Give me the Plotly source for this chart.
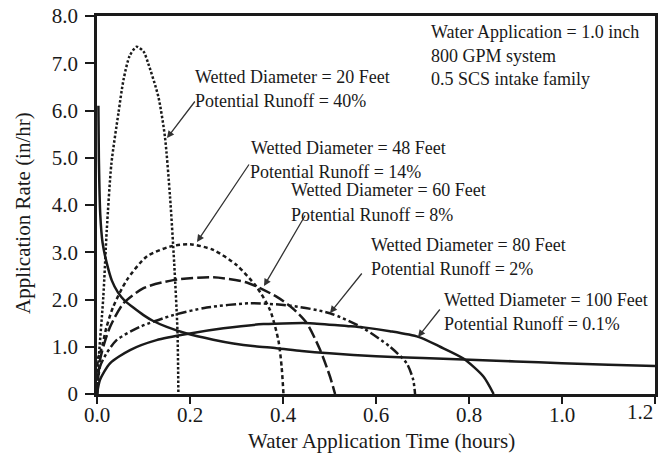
import plotly.graph_objects as go

# ---- data ----
intake_t = [0.003, 0.004, 0.007, 0.012, 0.021, 0.032, 0.045, 0.06, 0.078, 0.1, 0.12, 0.15, 0.193, 0.25, 0.293, 0.34, 0.386, 0.44, 0.5, 0.6, 0.7, 0.788, 0.9, 1.0, 1.1, 1.2]
intake_v = [6.1, 5.0, 3.8, 3.2, 2.77, 2.4, 2.15, 1.97, 1.83, 1.67, 1.55, 1.42, 1.28, 1.15, 1.07, 1.01, 0.97, 0.91, 0.86, 0.8, 0.76, 0.73, 0.69, 0.65, 0.62, 0.59]

d20_t = [0.0, 0.003, 0.0136, 0.021, 0.031, 0.046, 0.057, 0.07, 0.085, 0.1, 0.11, 0.132, 0.146, 0.157, 0.166, 0.173, 0.175]
d20_v = [0.0, 0.65, 2.06, 3.47, 4.88, 5.94, 6.65, 7.15, 7.35, 7.25, 7.0, 6.29, 5.45, 4.18, 2.77, 1.35, 0.0]

d48_t = [0.0, 0.002, 0.006, 0.012, 0.02, 0.035, 0.064, 0.107, 0.157, 0.2, 0.25, 0.3, 0.343, 0.372, 0.39, 0.397, 0.401]
d48_v = [0.0, 0.75, 0.85, 1.05, 1.4, 1.85, 2.41, 2.91, 3.12, 3.17, 3.05, 2.73, 2.27, 1.78, 1.14, 0.58, 0.0]

d60_t = [0.0, 0.003, 0.0065, 0.015, 0.028, 0.057, 0.1, 0.164, 0.25, 0.322, 0.386, 0.42, 0.451, 0.48, 0.501, 0.512]
d60_v = [0.0, 0.4, 0.72, 1.05, 1.42, 1.92, 2.24, 2.41, 2.47, 2.36, 2.06, 1.82, 1.5, 0.93, 0.37, 0.0]

d80_t = [0.0, 0.0065, 0.02, 0.042, 0.092, 0.164, 0.236, 0.329, 0.415, 0.501, 0.573, 0.63, 0.666, 0.68, 0.684]
d80_v = [0.0, 0.58, 0.85, 1.14, 1.42, 1.67, 1.83, 1.92, 1.87, 1.71, 1.39, 1.0, 0.65, 0.3, 0.0]

d100_t = [0.0, 0.0065, 0.028, 0.071, 0.128, 0.2, 0.272, 0.358, 0.42, 0.458, 0.537, 0.573, 0.63, 0.691, 0.738, 0.788, 0.831, 0.853]
d100_v = [0.0, 0.3, 0.65, 0.93, 1.14, 1.28, 1.39, 1.48, 1.5, 1.5, 1.44, 1.41, 1.33, 1.21, 1.0, 0.75, 0.37, 0.0]

x_tick_vals = [0.0, 0.2, 0.4, 0.6, 0.8, 1.0, 1.2]
x_tick_text = ["0.0", "0.2", "0.4", "0.6", "0.8", "1.0", "1.2"]
y_tick_vals = [0, 1, 2, 3, 4, 5, 6, 7, 8]
y_tick_text = ["0", "1.0", "2.0", "3.0", "4.0", "5.0", "6.0", "7.0", "8.0"]

info_lines = ["Water Application = 1.0 inch", "800 GPM system", "0.5 SCS intake family"]
label_lines = [
    "Wetted Diameter = 20 Feet", "Potential Runoff = 40%",
    "Wetted Diameter = 48 Feet", "Potential Runoff = 14%",
    "Wetted Diameter = 60 Feet", "Potential Runoff = 8%",
    "Wetted Diameter = 80 Feet", "Potential Runoff = 2%",
    "Wetted Diameter = 100 Feet", "Potential Runoff = 0.1%",
]
x_title = "Water Application Time (hours)"
y_title = "Application Rate (in/hr)"

FONT = "Liberation Serif, Times New Roman, serif"

# plot area in pixels
L, R, T, B = 97, 655, 16, 394
XMAX, YMAX = 1.2, 8.0
def dx(px): return (px - L) / (R - L) * XMAX
def dy(py): return (B - py) / (B - T) * YMAX
def px_(px): return (px - L) / (R - L)
def py_(py): return (B - py) / (B - T)

fig = go.Figure()
series = [
    (intake_t, intake_v, "solid"),
    (d20_t, d20_v, "2.5px,2px"),
    (d48_t, d48_v, "4px,3px"),
    (d60_t, d60_v, "12px,4px"),
    (d80_t, d80_v, "10px,3px,3px,3px,3px,3px"),
    (d100_t, d100_v, "solid"),
]
for t, v, dash in series:
    fig.add_trace(go.Scatter(x=t, y=v, mode="lines", showlegend=False,
                             line=dict(color="#1a1a1a", width=2.5, dash=dash,
                                       shape="spline", smoothing=0.7),
                             hoverinfo="skip"))

ann = []
for i, txt in enumerate(info_lines):
    ann.append(dict(text=txt, x=px_(429), y=py_(32 + 23.5 * i), xref="paper", yref="paper",
                    xanchor="left", yanchor="middle", showarrow=False))
label_pos = [(193, 77), (193, 101), (249, 148), (248, 172), (289, 190), (289, 215),
             (369, 245), (369, 269), (442, 300), (442, 324)]
for txt, (lx, ly) in zip(label_lines, label_pos):
    ann.append(dict(text=txt, x=px_(lx), y=py_(ly), xref="paper", yref="paper",
                    xanchor="left", yanchor="middle", showarrow=False))
arrows = [((196, 100), (167, 138)), ((250, 163), (197, 242)), ((306, 214), (264, 286)),
          ((363, 272), (330, 313)), ((441, 308), (418, 337))]
for (tx, ty), (hx, hy) in arrows:
    ann.append(dict(text="", x=dx(hx), y=dy(hy), ax=dx(tx), ay=dy(ty), xref="x", yref="y",
                    axref="x", ayref="y", showarrow=True, arrowhead=2, arrowsize=1.1,
                    arrowwidth=1.3, arrowcolor="#333"))
ann.append(dict(text=x_tick_text[-1], x=1.0, y=py_(412), xref="paper", yref="paper",
                xanchor="right", yanchor="middle", showarrow=False, font=dict(size=21)))
ann.append(dict(text=x_title, x=px_(381), y=py_(441), xref="paper", yref="paper",
                xanchor="center", yanchor="middle", showarrow=False, font=dict(size=21)))
ann.append(dict(text=y_title, x=px_(23), y=py_(213), xref="paper", yref="paper",
                xanchor="center", yanchor="middle", showarrow=False, textangle=-90,
                font=dict(size=21)))

fig.update_layout(
    width=660, height=462,
    margin=dict(l=L, r=660 - R, t=T, b=462 - B, autoexpand=False),
    paper_bgcolor="white", plot_bgcolor="white",
    font=dict(family=FONT, size=18, color="#1a1a1a"),
    annotations=ann,
    xaxis=dict(range=[0, XMAX], tickvals=x_tick_vals, ticktext=x_tick_text[:-1] + [""],
               showgrid=False, zeroline=False, showline=True, mirror=True,
               linecolor="#1a1a1a", linewidth=2.5, ticks="outside", ticklen=7,
               tickwidth=2, tickcolor="#1a1a1a", tickfont=dict(size=21), automargin=False,
               ticklabelstandoff=-7),
    yaxis=dict(range=[0, YMAX], tickvals=y_tick_vals, ticktext=y_tick_text,
               showgrid=False, zeroline=False, showline=True, mirror=True,
               linecolor="#1a1a1a", linewidth=2.5, ticks="outside", ticklen=9,
               tickwidth=2, tickcolor="#1a1a1a", tickfont=dict(size=21), automargin=False,
               ticklabelstandoff=3),
)

fig.write_html("out.html")
